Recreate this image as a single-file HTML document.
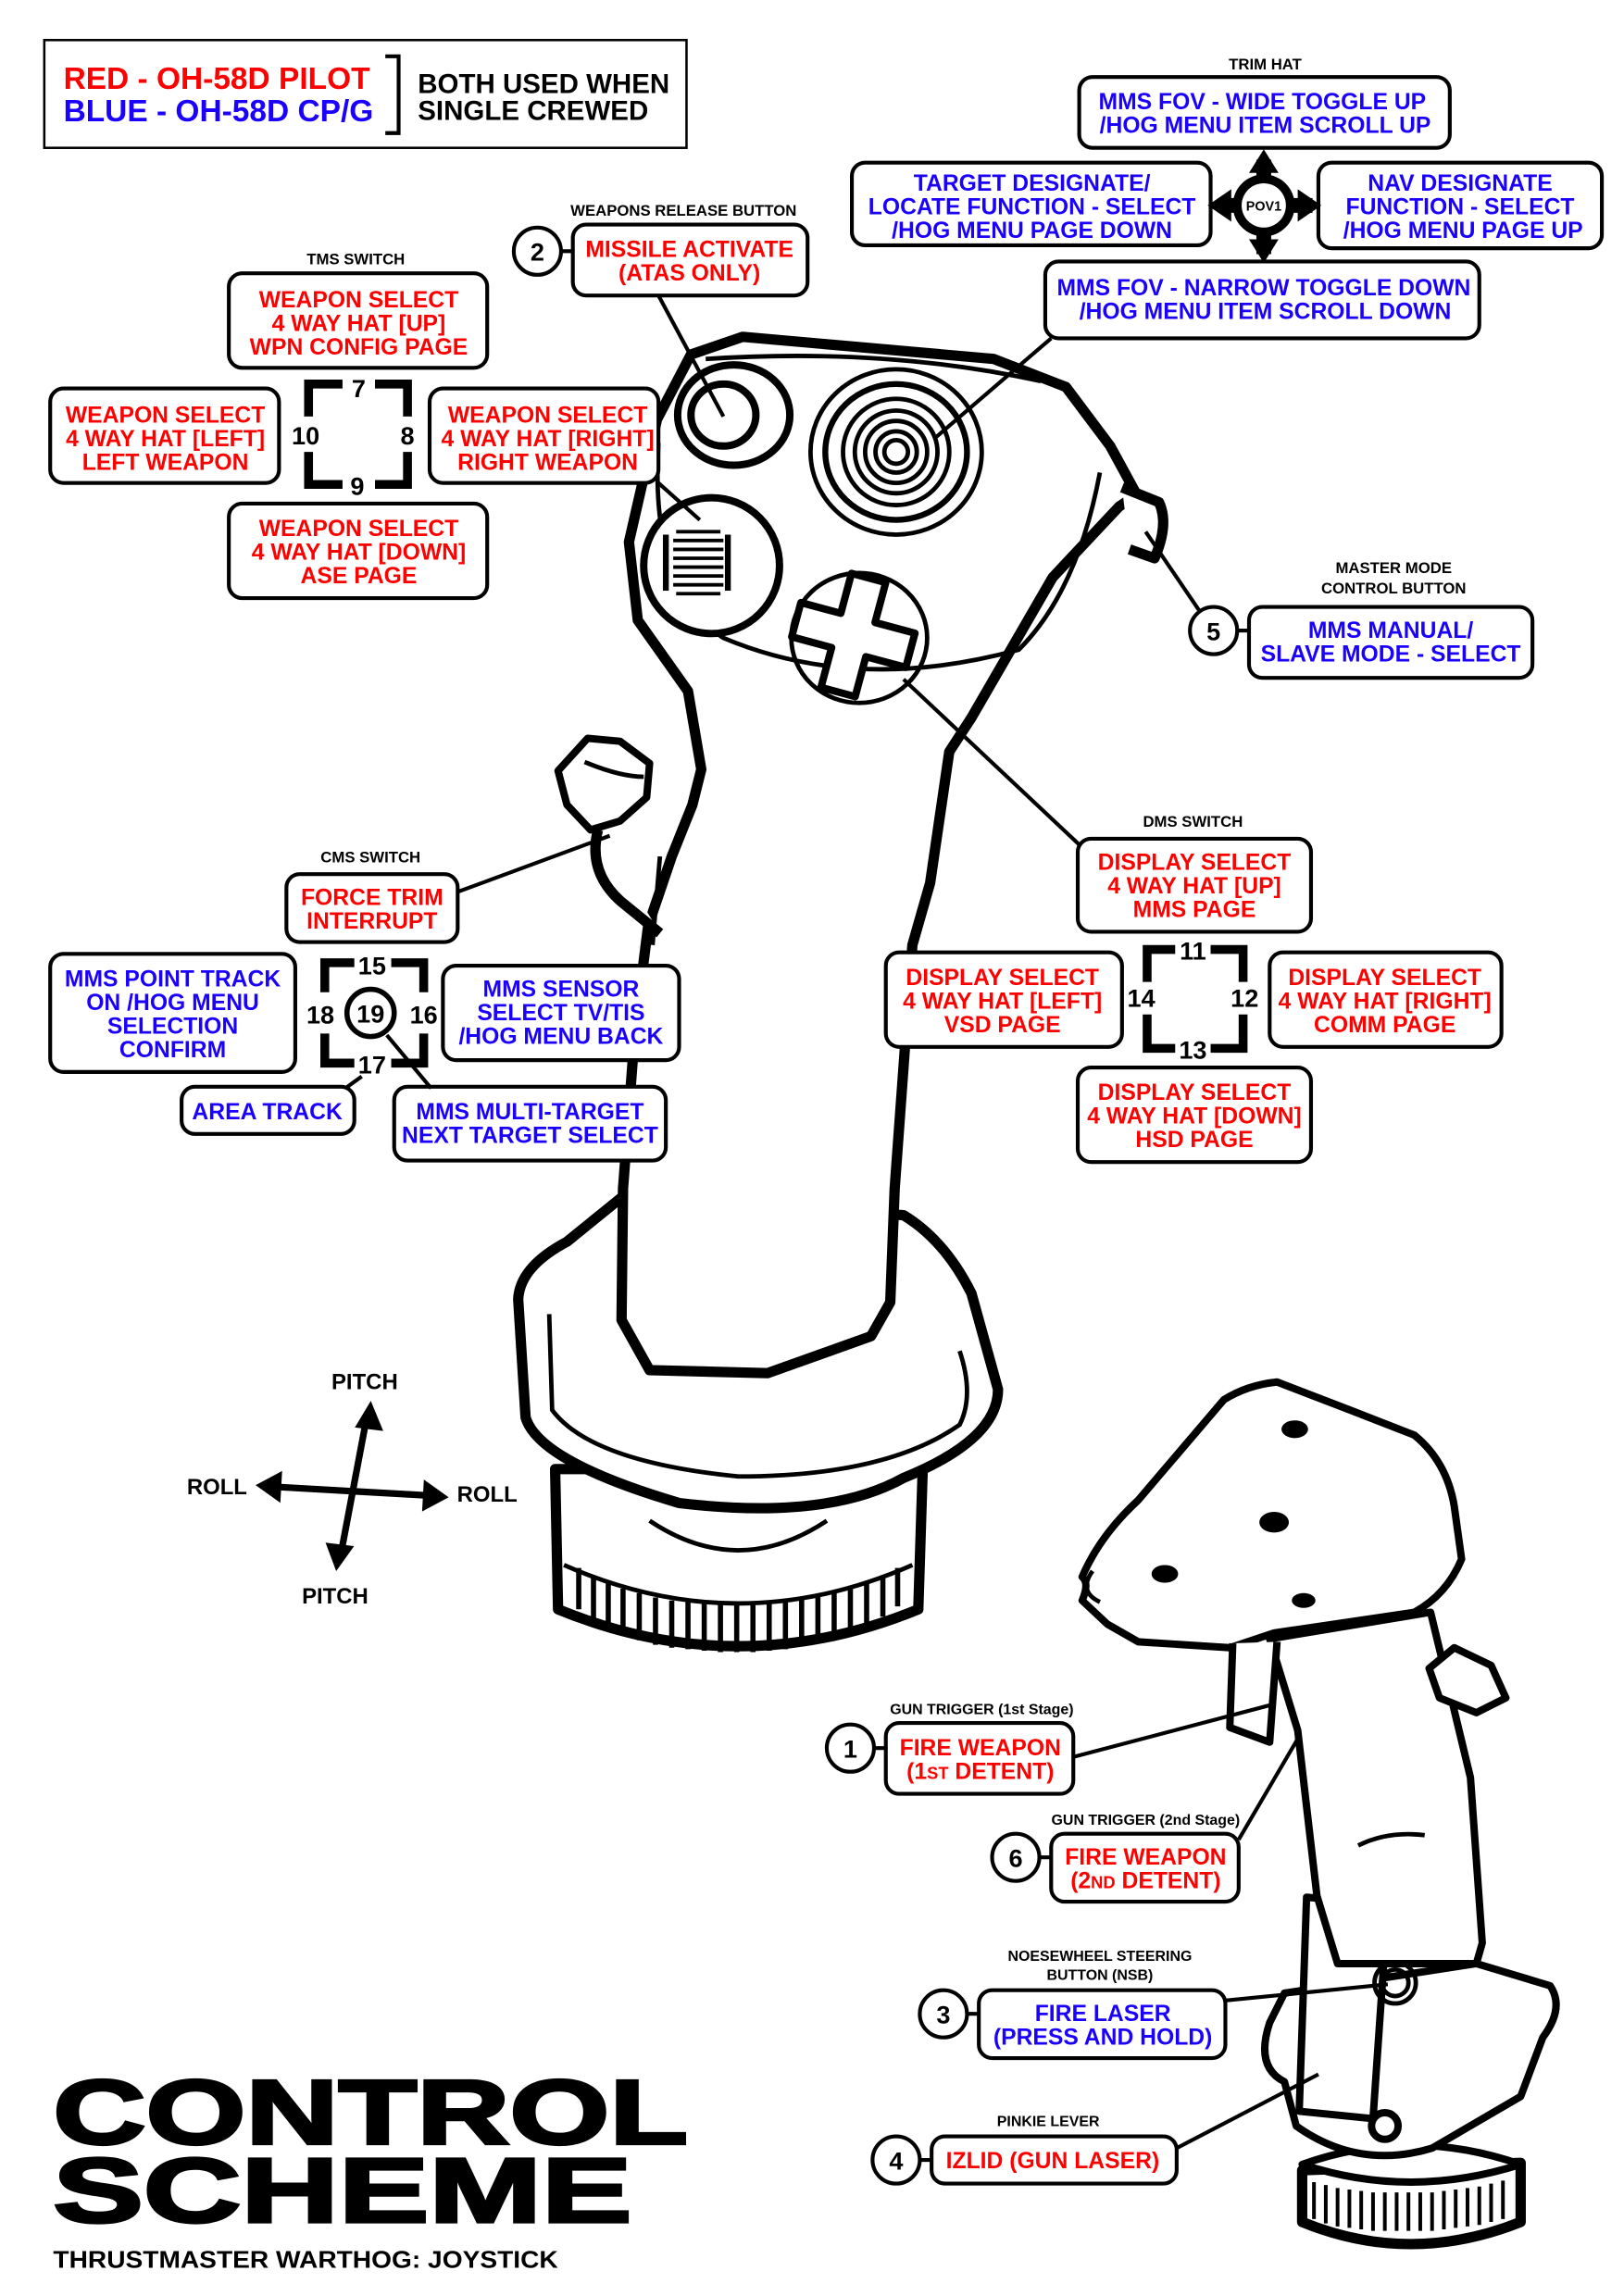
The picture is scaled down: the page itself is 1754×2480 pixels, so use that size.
<!DOCTYPE html>
<html><head><meta charset="utf-8"><style>
html,body{margin:0;padding:0;background:#fff}
svg{display:block}
text{font-family:"Liberation Sans",Arial,sans-serif;font-weight:bold}
.r{fill:#f00}.b{fill:#1a00ff}.k{fill:#000}
.bx{fill:#fff;stroke:#000;stroke-width:2.6}
.t{font-size:15.5px;text-anchor:middle}
.s{font-size:10.5px;text-anchor:middle;fill:#000}
.n{font-size:17px;text-anchor:middle;fill:#000}
.ln{stroke:#000;stroke-width:2.6;fill:none}
.o{fill:#fff;stroke:#000;stroke-width:7;stroke-linejoin:round}
.o5{fill:#fff;stroke:#000;stroke-width:5;stroke-linejoin:round}
.o3{fill:none;stroke:#000;stroke-width:3}
.br{fill:none;stroke:#000;stroke-width:6}
</style></head><body>
<svg width="1754" height="2480" viewBox="0 0 1100 1555" xmlns="http://www.w3.org/2000/svg">
<rect width="1100" height="1555" fill="#fff"/>

<!-- Legend -->
<rect x="30" y="27" width="435" height="73" fill="#fff" stroke="#000" stroke-width="1.6"/>
<text x="43" y="60" class="r" font-size="21">RED - OH-58D PILOT</text>
<text x="43" y="82" class="b" font-size="21">BLUE - OH-58D CP/G</text>
<path d="M261 38 H270 V90 H261" class="ln"/>
<text x="283" y="63" font-size="18.5" class="k">BOTH USED WHEN</text>
<text x="283" y="81" font-size="18.5" class="k">SINGLE CREWED</text>

<!-- MAIN JOYSTICK -->
<g>
<path d="M376 995 L378 1090 Q500 1140 622 1090 L625 995 Z" class="o"/>
<path d="M382 1060 Q500 1112 618 1060" class="o3"/>
<g stroke="#000" stroke-width="3.5" fill="none">
<path d="M392 1062v28M402 1068v30M412 1072v32M422 1076v32M433 1079v32M444 1082v32M455 1084v32M466 1085v32M477 1086v32M488 1087v32M499 1087v32M510 1087v32M521 1086v32M532 1085v32M543 1083v32M554 1081v32M565 1078v32M576 1075v30M587 1071v30M598 1067v28M608 1062v26"/>
</g>
<path d="M440 1030 Q500 1070 560 1030" class="o3"/>
<path d="M384 841 Q352 858 351 880 L356 960 Q365 990 460 1018 Q560 1030 612 1001 Q676 975 676 941 L658 876 Q640 840 612 823 L421 811 Z" class="o"/>
<path d="M372 890 L374 955 Q400 990 500 1000 Q600 1000 650 965 Q660 945 650 915" class="o3"/>
<path d="M421 894 L422 805 L430 699 L439 627 L455 580 L469 545 L475 521 L466 468 L432 420 L426 367 L445 284 L468 240 L503 228 L673 243 L722 262 L752 302 L770 335 L758 343 L713 391 L658 486 L643 509 L630 598 L618 640 L606 805 L603 882 L590 905 L520 930 L440 928 Z" class="o"/>
<path d="M446 300 Q440 400 490 432 Q580 470 690 440 Q730 400 745 320" class="o3"/>
<path d="M478 243 Q600 235 705 258" class="o3"/>
<path d="M760 330 L785 340 Q792 355 782 378 L765 372" class="o"/>
<ellipse cx="497" cy="281" rx="38" ry="34" class="o5"/>
<ellipse cx="490" cy="281" rx="22" ry="21" class="o5"/>
<ellipse cx="607" cy="306" rx="58" ry="56" class="o3"/>
<ellipse cx="607" cy="306" rx="48" ry="46" fill="#fff" stroke="#000" stroke-width="4"/>
<circle cx="607" cy="306" r="36" class="o3"/>
<circle cx="607" cy="306" r="28" class="o3"/>
<circle cx="607" cy="306" r="21" class="o3"/>
<circle cx="607" cy="306" r="14" class="o3"/>
<circle cx="607" cy="306" r="8" class="o3"/>
<ellipse cx="482" cy="383" rx="46" ry="46" class="o5"/>
<g stroke="#000" stroke-width="2.4"><path d="M458 360h30M456 366h34M456 372h34M456 378h34M456 384h34M456 390h34M456 396h34M458 402h30"/></g>
<path d="M451 362v38M493 362v38" stroke="#000" stroke-width="4"/>
<ellipse cx="582" cy="432" rx="46" ry="44" class="o3"/>
<g transform="rotate(15 578 430)">
<path d="M566 390 h24 v28 h28 v24 h-28 v28 h-24 v-28 h-28 v-24 h28 Z" class="o5"/>
</g>
<path d="M378 522 L398 500 L420 502 L440 517 L438 540 L420 556 L400 562 L384 545 Z" class="o5"/>
<path d="M396 516 Q420 526 436 526" class="o3"/>
<path d="M405 562 Q398 590 420 610 L447 632" class="o"/>
<path d="M447 580 L442 640" class="o3"/>
</g>

<!-- SECOND JOYSTICK -->
<g>
<path d="M882 1470 L882 1505 Q955 1535 1030 1505 L1030 1465 Z" class="o"/>
<g stroke="#000" stroke-width="2.5"><path d="M890 1478v25M898 1480v26M906 1482v26M914 1483v26M922 1484v26M930 1485v26M938 1485v26M946 1485v26M954 1485v26M962 1485v26M970 1485v26M978 1484v26M986 1483v26M994 1482v26M1002 1481v26M1010 1479v26M1018 1477v26"/></g>
<path d="M882 1466 Q955 1490 1030 1466 Q955 1440 882 1466 Z" class="o5"/>
<path d="M860 1370 Q850 1400 870 1410 L878 1440 Q920 1470 970 1455 L1030 1420 L1045 1380 Q1060 1360 1050 1345 L1000 1330 L870 1350 Z" class="o5"/>
<path d="M885 1285 L880 1430 L930 1435 L940 1290 Z" class="o5"/>
<path d="M879 1172 L892 1284 L906 1330 L1000 1330 L1004 1316 L996 1204 L969 1092 L860 1110 Z" class="o5"/>
<circle cx="945" cy="1343" r="14" class="o3"/><circle cx="945" cy="1343" r="9" class="o3"/>
<circle cx="938" cy="1440" r="9" class="o5"/>
<path d="M733 1068 Q745 1040 771 1016 L829 948 Q845 938 865 936 L917 956 L958 972 Q980 990 985 1020 L990 1056 Q980 1080 958 1092 L863 1106 L833 1116 L771 1112 L750 1100 L733 1084 Q738 1072 733 1068 Z" class="o5"/>
<path d="M740 1064 Q730 1078 745 1085" class="o3"/>
<ellipse cx="877" cy="968" rx="9" ry="6" fill="#000"/>
<ellipse cx="863" cy="1031" rx="10" ry="7" fill="#000"/>
<ellipse cx="789" cy="1066" rx="9" ry="6" fill="#000"/>
<ellipse cx="883" cy="1084" rx="8" ry="5" fill="#000"/>
<path d="M835 1113 L833 1170 L860 1180 L865 1112" class="o5"/>
<path d="M968 1130 L985 1116 L1010 1128 L1020 1150 L1000 1160 L975 1150 Z" class="o5"/>
<path d="M920 1250 Q940 1240 965 1243" class="o3"/>
</g>

<!-- TRIM HAT -->
<text x="857" y="47" class="s">TRIM HAT</text>
<rect x="731" y="52" width="251" height="48" rx="9" class="bx"/>
<text x="855" y="74" class="t b">MMS FOV - WIDE TOGGLE UP</text>
<text x="857" y="90" class="t b">/HOG MENU ITEM SCROLL UP</text>
<rect x="577" y="110" width="243" height="56" rx="9" class="bx"/>
<text x="699" y="129" class="t b">TARGET DESIGNATE/</text>
<text x="699" y="145" class="t b">LOCATE FUNCTION - SELECT</text>
<text x="699" y="161" class="t b">/HOG MENU PAGE DOWN</text>
<rect x="893" y="110" width="192" height="58" rx="9" class="bx"/>
<text x="989" y="129" class="t b">NAV DESIGNATE</text>
<text x="989" y="145" class="t b">FUNCTION - SELECT</text>
<text x="991" y="161" class="t b">/HOG MENU PAGE UP</text>
<rect x="708" y="177" width="294" height="52" rx="9" class="bx"/>
<text x="856" y="200" class="t b">MMS FOV - NARROW TOGGLE DOWN</text>
<text x="857" y="216" class="t b">/HOG MENU ITEM SCROLL DOWN</text>
<g fill="#000">
<rect x="851" y="108" width="10" height="64"/>
<rect x="825" y="134" width="64" height="10"/>
<path d="M856 101 L866 117 L846 117 Z"/>
<path d="M856 178 L866 162 L846 162 Z"/>
<path d="M818 139 L834 128 L834 150 Z"/>
<path d="M895 139 L879 128 L879 150 Z"/>
<circle cx="856" cy="139" r="21"/>
</g>
<circle cx="856" cy="139" r="15" fill="#fff"/>
<text x="856" y="142.5" font-size="9" text-anchor="middle" class="k">POV1</text>

<!-- WEAPONS RELEASE -->
<text x="463" y="146" class="s">WEAPONS RELEASE BUTTON</text>
<circle cx="364" cy="170" r="16" fill="#fff" stroke="#000" stroke-width="2.6"/>
<text x="364" y="176.5" class="n">2</text>
<path d="M380 170 H388" class="ln"/>
<rect x="388" y="152" width="159" height="48" rx="9" class="bx"/>
<text x="467" y="174" class="t r">MISSILE ACTIVATE</text>
<text x="467" y="190" class="t r">(ATAS ONLY)</text>
<path d="M446 200 L490 282" class="ln"/>

<!-- TMS -->
<text x="241" y="179" class="s">TMS SWITCH</text>
<rect x="155" y="185" width="175" height="64" rx="9" class="bx"/>
<text x="243" y="208" class="t r">WEAPON SELECT</text>
<text x="243" y="224" class="t r">4 WAY HAT [UP]</text>
<text x="243" y="240" class="t r">WPN CONFIG PAGE</text>
<rect x="34" y="263" width="155" height="64" rx="9" class="bx"/>
<text x="112" y="286" class="t r">WEAPON SELECT</text>
<text x="112" y="302" class="t r">4 WAY HAT [LEFT]</text>
<text x="112" y="318" class="t r">LEFT WEAPON</text>
<rect x="291" y="263" width="155" height="64" rx="9" class="bx"/>
<text x="371" y="286" class="t r">WEAPON SELECT</text>
<text x="371" y="302" class="t r">4 WAY HAT [RIGHT]</text>
<text x="371" y="318" class="t r">RIGHT WEAPON</text>
<rect x="155" y="341" width="175" height="64" rx="9" class="bx"/>
<text x="243" y="363" class="t r">WEAPON SELECT</text>
<text x="243" y="379" class="t r">4 WAY HAT [DOWN]</text>
<text x="243" y="395" class="t r">ASE PAGE</text>
<path d="M209 282 V260 H232 M254 260 H276 V282 M209 306 V328 H232 M254 328 H276 V306" class="br"/>
<text x="243" y="269" class="n">7</text>
<text x="207" y="301" class="n">10</text>
<text x="276" y="301" class="n">8</text>
<text x="242" y="335" class="n">9</text>
<path d="M446 327 L474 352" class="ln"/>

<!-- MASTER MODE -->
<text x="944" y="388" class="s">MASTER MODE</text>
<text x="944" y="402" class="s">CONTROL BUTTON</text>
<circle cx="822" cy="427" r="16" fill="#fff" stroke="#000" stroke-width="2.6"/>
<text x="822" y="433.5" class="n">5</text>
<path d="M838 427 H846" class="ln"/>
<rect x="846" y="411" width="192" height="48" rx="9" class="bx"/>
<text x="942" y="432" class="t b">MMS MANUAL/</text>
<text x="942" y="448" class="t b">SLAVE MODE - SELECT</text>
<path d="M812 413 L776 360" class="ln"/>
<path d="M712 229 L634 296" class="ln"/>

<!-- DMS -->
<text x="808" y="560" class="s">DMS SWITCH</text>
<path d="M731 572 L612 460" class="ln"/>
<rect x="730" y="568" width="158" height="63" rx="9" class="bx"/>
<text x="809" y="589" class="t r">DISPLAY SELECT</text>
<text x="809" y="605" class="t r">4 WAY HAT [UP]</text>
<text x="809" y="621" class="t r">MMS PAGE</text>
<rect x="600" y="645" width="160" height="64" rx="9" class="bx"/>
<text x="679" y="667" class="t r">DISPLAY SELECT</text>
<text x="679" y="683" class="t r">4 WAY HAT [LEFT]</text>
<text x="679" y="699" class="t r">VSD PAGE</text>
<rect x="860" y="645" width="157" height="64" rx="9" class="bx"/>
<text x="938" y="667" class="t r">DISPLAY SELECT</text>
<text x="938" y="683" class="t r">4 WAY HAT [RIGHT]</text>
<text x="938" y="699" class="t r">COMM PAGE</text>
<rect x="730" y="723" width="158" height="64" rx="9" class="bx"/>
<text x="809" y="745" class="t r">DISPLAY SELECT</text>
<text x="809" y="761" class="t r">4 WAY HAT [DOWN]</text>
<text x="809" y="777" class="t r">HSD PAGE</text>
<path d="M777 665 V643 H796 M820 643 H842 V665 M777 687 V710 H796 M820 710 H842 V687" class="br"/>
<text x="808" y="650" class="n">11</text>
<text x="773" y="682" class="n">14</text>
<text x="843" y="682" class="n">12</text>
<text x="808" y="717" class="n">13</text>

<!-- CMS -->
<text x="251" y="584" class="s">CMS SWITCH</text>
<rect x="194" y="592" width="116" height="46" rx="9" class="bx"/>
<text x="252" y="613" class="t r">FORCE TRIM</text>
<text x="252" y="629" class="t r">INTERRUPT</text>
<path d="M310 604 L413 566" class="ln"/>
<rect x="34" y="646" width="166" height="80" rx="9" class="bx"/>
<text x="117" y="668" class="t b">MMS POINT TRACK</text>
<text x="117" y="684" class="t b">ON /HOG MENU</text>
<text x="117" y="700" class="t b">SELECTION</text>
<text x="117" y="716" class="t b">CONFIRM</text>
<rect x="300" y="654" width="160" height="64" rx="9" class="bx"/>
<text x="380" y="675" class="t b">MMS SENSOR</text>
<text x="380" y="691" class="t b">SELECT TV/TIS</text>
<text x="380" y="707" class="t b">/HOG MENU BACK</text>
<path d="M220 672 V652 H240 M265 652 H287 V672 M220 700 V720 H240 M265 720 H287 V700" class="br"/>
<text x="252" y="660" class="n">15</text>
<text x="217" y="693" class="n">18</text>
<text x="287" y="693" class="n">16</text>
<text x="252" y="727" class="n">17</text>
<circle cx="251" cy="686" r="16" fill="#fff" stroke="#000" stroke-width="3.5"/>
<text x="251" y="692.5" class="n">19</text>
<rect x="123" y="736" width="117" height="32" rx="9" class="bx"/>
<text x="181" y="758" class="t b">AREA TRACK</text>
<path d="M234 737 L245 729" class="ln"/>
<rect x="267" y="736" width="184" height="50" rx="9" class="bx"/>
<text x="359" y="758" class="t b">MMS MULTI-TARGET</text>
<text x="359" y="774" class="t b">NEXT TARGET SELECT</text>
<path d="M262 701 L292 737" class="ln"/>

<!-- PITCH/ROLL -->
<text x="247" y="941" font-size="15" text-anchor="middle" class="k">PITCH</text>
<text x="147" y="1012" font-size="15" text-anchor="middle" class="k">ROLL</text>
<text x="330" y="1017" font-size="15" text-anchor="middle" class="k">ROLL</text>
<text x="227" y="1086" font-size="15" text-anchor="middle" class="k">PITCH</text>
<path d="M248 962 L231 1052 M186 1007 L292 1013" stroke="#000" stroke-width="4.5"/>
<path d="M251 951 L258 968 L242 966 Z M228 1062 L222 1046 L238 1048 Z M175 1006 L190 998 L189 1016 Z M302 1014 L287 1022 L288 1004 Z" fill="#000" stroke="#000" stroke-width="2"/>

<!-- TRIGGER labels -->
<text x="665" y="1161" font-size="10" text-anchor="middle" class="k">GUN TRIGGER (1st Stage)</text>
<circle cx="576" cy="1184" r="16" fill="#fff" stroke="#000" stroke-width="2.6"/>
<text x="576" y="1190.5" class="n">1</text>
<path d="M592 1184 H600" class="ln"/>
<rect x="600" y="1167" width="127" height="48" rx="9" class="bx"/>
<text x="664" y="1189" class="t r">FIRE WEAPON</text>
<text x="664" y="1205" class="t r">(1<tspan font-size="11.5">ST</tspan> DETENT)</text>
<path d="M727 1190 L860 1155" class="ln"/>

<text x="776" y="1236" font-size="10" text-anchor="middle" class="k">GUN TRIGGER (2nd Stage)</text>
<circle cx="688" cy="1258" r="16" fill="#fff" stroke="#000" stroke-width="2.6"/>
<text x="688" y="1264.5" class="n">6</text>
<path d="M704 1258 H712" class="ln"/>
<rect x="712" y="1242" width="127" height="46" rx="9" class="bx"/>
<text x="776" y="1263" class="t r">FIRE WEAPON</text>
<text x="776" y="1279" class="t r">(2<tspan font-size="11.5">ND</tspan> DETENT)</text>
<path d="M839 1246 L880 1176" class="ln"/>

<text x="745" y="1328" font-size="10" text-anchor="middle" class="k">NOESEWHEEL STEERING</text>
<text x="745" y="1341" font-size="10" text-anchor="middle" class="k">BUTTON (NSB)</text>
<circle cx="639" cy="1364" r="16" fill="#fff" stroke="#000" stroke-width="2.6"/>
<text x="639" y="1370.5" class="n">3</text>
<path d="M655 1364 H663" class="ln"/>
<rect x="663" y="1348" width="167" height="46" rx="9" class="bx"/>
<text x="747" y="1369" class="t b">FIRE LASER</text>
<text x="747" y="1385" class="t b">(PRESS AND HOLD)</text>
<path d="M830 1355 L940 1344" class="ln"/>

<text x="710" y="1440" font-size="10" text-anchor="middle" class="k">PINKIE LEVER</text>
<circle cx="607" cy="1463" r="16" fill="#fff" stroke="#000" stroke-width="2.6"/>
<text x="607" y="1469.5" class="n">4</text>
<path d="M623 1463 H631" class="ln"/>
<rect x="631" y="1447" width="166" height="32" rx="9" class="bx"/>
<text x="713" y="1468.5" class="t r">IZLID (GUN LASER)</text>
<path d="M797 1455 L893 1405" class="ln"/>

<!-- TITLE -->
<text x="36" y="1452" font-size="62" font-weight="900" textLength="430" lengthAdjust="spacingAndGlyphs" class="k" stroke="#000" stroke-width="2">CONTROL</text>
<text x="36" y="1505" font-size="62" font-weight="900" textLength="392" lengthAdjust="spacingAndGlyphs" class="k" stroke="#000" stroke-width="2">SCHEME</text>
<text x="36" y="1536" font-size="16.5" class="k" textLength="342" lengthAdjust="spacingAndGlyphs">THRUSTMASTER WARTHOG: JOYSTICK</text>
</svg>
</body></html>
